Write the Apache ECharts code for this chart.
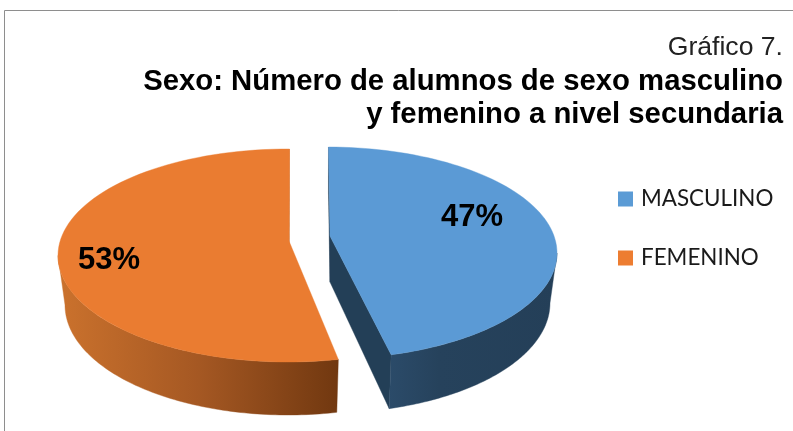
<!DOCTYPE html>
<html><head><meta charset="utf-8">
<style>html,body{margin:0;padding:0;background:#fff}#c{width:793px;height:431px}</style>
<script src="https://cdn.jsdelivr.net/npm/echarts@6/dist/echarts.min.js"></script>
</head><body><div id="c"></div>
<script>
var categories = ['MASCULINO', 'FEMENINO'];
var values = [47, 53];
var labels = ['47%', '53%'];
var titleLines = ['Gráfico 7.', 'Sexo: Número de alumnos de sexo masculino', 'y femenino a nivel secundaria'];
var colors = ['#5b9bd5', '#ed7d31'];

var total = values[0] + values[1];
var START = 0.5, A = 0.15, RX = 230, RXB = 223, N = 90;
var layout = [
  {cx: 327, cy: 253, ry: 106, cyb: 303, ryb: 110, lx: 472, ly: 217.5, apexDx: 3, apexDy: -1, tipAdj: -0.04,
   face: '#5b9ad5', wall: '#233f57', side: [[0, '#2b4b69'], [0.3, '#26425c'], [1, '#243f58']]},
  {cx: 288, cy: 255.5, ry: 106.5, cyb: 305, ryb: 110, lx: 109, ly: 260, apexDx: 1, apexDy: 1.5, tipAdj: 0.022,
   face: '#ea7c31', wall: '#c5692a', side: [[0, '#cb722d'], [0.5, '#a55823'], [1, '#713810']]}
];
// true pie angle (clockwise from top, degrees) -> angle on the tilted ellipse (perspective)
function persp(deg) {
  var t = deg * Math.PI / 180, x = Math.sin(t), y = -Math.cos(t);
  var nr = x, ni = y - A, dr = 1 - A * y, di = A * x, d = dr * dr + di * di;
  var wr = (nr * dr + ni * di) / d, wi = (ni * dr - nr * di) / d;
  var p = Math.atan2(wr, -wi);
  while (p < t - Math.PI) p += 2 * Math.PI;
  while (p > t + Math.PI) p -= 2 * Math.PI;
  return p;
}
function topPt(L, p) { return [L.cx + RX * Math.sin(p), L.cy - L.ry * Math.cos(p)]; }
function botPt(L, p) { return [L.cx + RXB * Math.sin(p), L.cyb - L.ryb * Math.cos(p)]; }
function arc(fn, L, a, b) {
  var out = [];
  for (var i = 0; i <= N; i++) out.push(fn(L, a + (b - a) * i / N));
  return out;
}
function renderSlice(idx) {
  return function (params, api) {
    var v = api.value(0), L = layout[idx];
    var before = 0;
    for (var k = 0; k < idx; k++) before += values[k];
    var a0 = persp(START + before / total * 360), a1 = persp(START + (before + v) / total * 360);
    if (idx === 0) a1 += L.tipAdj; else a0 += L.tipAdj;
    var apexT = [L.cx + L.apexDx, L.cy - A * L.ry + L.apexDy];
    var apexB = [apexT[0], apexT[1] + 46];
    var fa = idx === 0 ? Math.PI / 2 : a0, fb = idx === 0 ? a1 : 1.5 * Math.PI;
    var sidePts = arc(topPt, L, fa, fb).concat(arc(botPt, L, fa, fb).reverse());
    var stops = L.side.map(function (s) { return {offset: s[0], color: s[1]}; });
    if (idx === 1) stops = L.side.map(function (s) { return {offset: s[0], color: s[1]}; });
    var sideFill = new echarts.graphic.LinearGradient(0, 0, 1, 0, stops);
    var children = [];
    function poly(pts, fill) { children.push({type: 'polygon', shape: {points: pts}, style: {fill: fill, stroke: fill, lineWidth: 0.4}}); }
    if (idx === 0) {
      poly([topPt(L, a0), apexT, apexB, botPt(L, a0)], L.wall);
      poly([apexT, topPt(L, a1), botPt(L, a1), apexB], L.wall);
    } else {
      poly([topPt(L, a1), apexT, apexB, botPt(L, a1)], L.wall);
    }
    poly(sidePts, sideFill);
    poly([apexT].concat(arc(topPt, L, a0, a1)), L.face);
    children.push({type: 'text', style: {x: L.lx, y: L.ly, text: labels[idx], fill: '#000',
      font: 'bold 31px "Liberation Sans"', align: 'center', verticalAlign: 'middle'}});
    return {type: 'group', children: children};
  };
}
var chart = echarts.init(document.getElementById('c'), null, {renderer: 'canvas'});
chart.setOption({
  animation: false,
  backgroundColor: '#fff',
  color: colors,
  legend: {
    orient: 'vertical', left: 613, top: 183, padding: [5, 5, 5, 5], icon: 'rect',
    itemWidth: 15, itemHeight: 15, itemGap: 37,
    data: categories,
    textStyle: {fontFamily: 'Lato', fontSize: 22.4, color: '#1a1a1a', padding: [0, 0, 0, 3]}
  },
  graphic: [
    {type: 'polyline', silent: true, shape: {points: [[4.5, 431], [4.5, 10.5], [793, 10.5]]}, style: {stroke: '#8e8e8e', lineWidth: 1, fill: null}},
    {type: 'text', style: {x: 783, y: 47.5, text: titleLines[0], align: 'right', verticalAlign: 'middle', font: '26.6px "Liberation Sans"', fill: '#222'}},
    {type: 'text', style: {x: 783, y: 81.5, text: titleLines[1], align: 'right', verticalAlign: 'middle', font: 'bold 29.3px "Liberation Sans"', fill: '#000'}},
    {type: 'text', style: {x: 783, y: 114.5, text: titleLines[2], align: 'right', verticalAlign: 'middle', font: 'bold 29.3px "Liberation Sans"', fill: '#000'}}
  ],
  series: categories.map(function (name, i) {
    return {type: 'custom', name: name, coordinateSystem: 'none', silent: true,
      renderItem: renderSlice(i), data: [[values[i]]]};
  })
});
</script></body></html>
